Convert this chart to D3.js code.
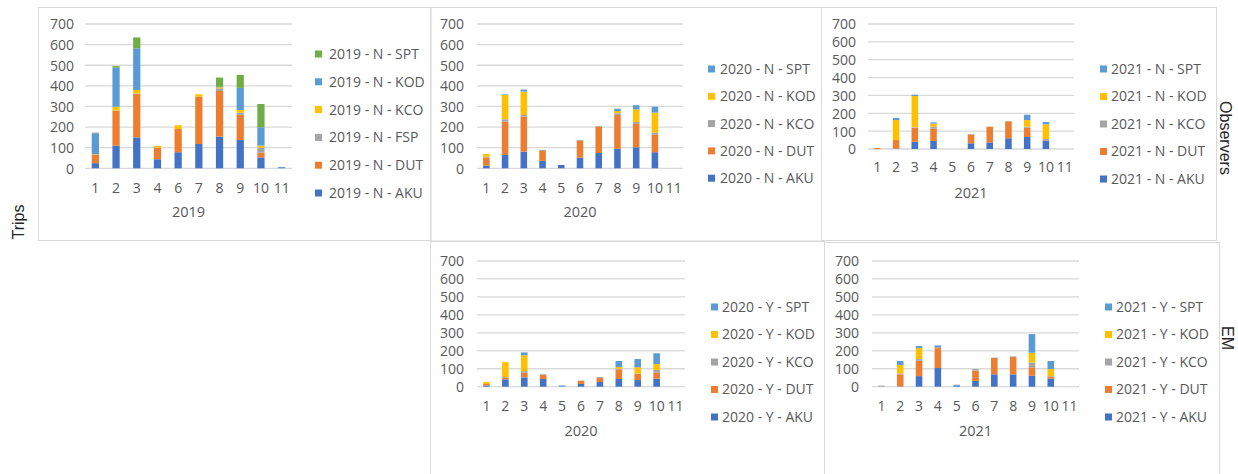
<!DOCTYPE html>
<html>
<head>
<meta charset="utf-8">
<script src="https://cdn.jsdelivr.net/npm/d3@7"></script>
<style>
  html, body { margin: 0; padding: 0; background: #fff; }
  svg { display: block; }
  text { font-family: "Open Sans", "Liberation Sans", sans-serif; }
</style>
</head>
<body>
<svg id="chart" width="1238" height="474"></svg>
<script>
// ---- categories ----
const months2019 = ["1", "2", "3", "4", "6", "7", "8", "9", "10", "11"];
const monthsAll = ["1", "2", "3", "4", "5", "6", "7", "8", "9", "10", "11"];
const ports2019 = ["AKU", "DUT", "FSP", "KCO", "KOD", "SPT"];
const ports = ["AKU", "DUT", "KCO", "KOD", "SPT"];
const yTicks = [0, 100, 200, 300, 400, 500, 600, 700];

// ---- 2019, observers (N) ----
const n2019AKU = [25, 110, 150, 44, 78, 118, 154, 137, 53, 0];
const n2019DUT = [40, 168, 210, 56, 113, 230, 221, 122, 23, 0];
const n2019FSP = [0, 2, 3, 0, 0, 0, 13, 11, 24, 0];
const n2019KCO = [3, 19, 17, 8, 18, 11, 5, 13, 10, 0];
const n2019KOD = [102, 189, 202, 0, 0, 0, 2, 107, 89, 6];
const n2019SPT = [3, 8, 53, 0, 0, 0, 45, 63, 113, 0];

// ---- 2020, observers (N) ----
const n2020AKU = [13, 65, 81, 36, 16, 52, 74, 95, 102, 78, 0];
const n2020DUT = [40, 161, 170, 48, 0, 81, 128, 164, 113, 84, 0];
const n2020KCO = [3, 12, 8, 5, 0, 4, 3, 8, 10, 11, 0];
const n2020KOD = [14, 118, 113, 0, 0, 0, 0, 11, 61, 97, 0];
const n2020SPT = [0, 3, 10, 0, 0, 0, 0, 11, 20, 29, 0];

// ---- 2021, observers (N) ----
const n2021AKU = [0, 2, 41, 45, 0, 32, 37, 60, 67, 47, 0];
const n2021DUT = [5, 48, 78, 69, 0, 48, 88, 95, 52, 2, 0];
const n2021KCO = [0, 0, 3, 11, 0, 4, 0, 2, 6, 7, 0];
const n2021KOD = [0, 112, 175, 17, 0, 0, 0, 0, 37, 82, 0];
const n2021SPT = [0, 12, 7, 7, 0, 0, 0, 0, 30, 13, 0];

// ---- 2020, electronic monitoring (Y) ----
const y2020AKU = [7, 41, 52, 43, 2, 15, 26, 43, 37, 45, 0];
const y2020DUT = [8, 11, 26, 22, 0, 17, 24, 54, 34, 33, 0];
const y2020KCO = [0, 2, 9, 4, 0, 2, 4, 3, 2, 15, 0];
const y2020KOD = [11, 83, 88, 0, 0, 0, 0, 10, 35, 33, 0];
const y2020SPT = [0, 0, 16, 0, 5, 0, 0, 33, 46, 60, 0];

// ---- 2021, electronic monitoring (Y) ----
const y2021AKU = [0, 2, 59, 104, 7, 32, 69, 69, 61, 45, 0];
const y2021DUT = [0, 67, 86, 111, 0, 57, 91, 96, 47, 11, 0];
const y2021KCO = [6, 5, 9, 6, 0, 9, 2, 4, 26, 3, 0];
const y2021KOD = [0, 47, 61, 0, 0, 0, 0, 0, 55, 39, 0];
const y2021SPT = [0, 22, 11, 9, 4, 0, 0, 0, 104, 45, 0];

// Office-style series palette, assigned by series order
const palette = ["#4472C4", "#ED7D31", "#A5A5A5", "#FFC000", "#5B9BD5", "#70AD47"];
const textColor = "#595959";
const lineColor = "#D9D9D9";

const svg = d3.select("#chart");

// panel frames
const frames = [
  [38.5, 7.5, 392.5, 233],
  [430.5, 7.5, 391, 233.5],
  [821.5, 7.5, 395, 233],
  [430.5, 241.5, 394, 240],
  [824.5, 242.5, 395, 240]
];
svg.selectAll("rect.frame").data(frames).join("rect")
  .attr("class", "frame")
  .attr("x", d => d[0]).attr("y", d => d[1])
  .attr("width", d => d[2]).attr("height", d => d[3])
  .attr("fill", "none").attr("stroke", lineColor).attr("stroke-width", 1);

function buildRows(cats, names, arrays) {
  return cats.map((c, i) => {
    const row = { cat: c };
    names.forEach((n, k) => { row[n] = arrays[k][i]; });
    return row;
  });
}

const panels = [
  { year: "2019", code: "N", cats: months2019, names: ports2019,
    arrays: [n2019AKU, n2019DUT, n2019FSP, n2019KCO, n2019KOD, n2019SPT],
    x0: 85, x1: 292, y0: 168.3, y1: 24, labelX: 74, catY: 188, titleY: 212,
    legX: 315, legTextX: 329, legY: 54, legStep: 27.8 },
  { year: "2020", code: "N", cats: monthsAll, names: ports,
    arrays: [n2020AKU, n2020DUT, n2020KCO, n2020KOD, n2020SPT],
    x0: 477, x1: 683, y0: 168.3, y1: 24, labelX: 464, catY: 188, titleY: 212,
    legX: 708, legTextX: 720, legY: 69, legStep: 27.3 },
  { year: "2021", code: "N", cats: monthsAll, names: ports,
    arrays: [n2021AKU, n2021DUT, n2021KCO, n2021KOD, n2021SPT],
    x0: 868, x1: 1074, y0: 149, y1: 24, labelX: 856, catY: 167, titleY: 193,
    legX: 1100, legTextX: 1111, legY: 69, legStep: 27.5 },
  { year: "2020", code: "Y", cats: monthsAll, names: ports,
    arrays: [y2020AKU, y2020DUT, y2020KCO, y2020KOD, y2020SPT],
    x0: 477, x1: 685, y0: 386.7, y1: 261, labelX: 464, catY: 406, titleY: 431,
    legX: 711, legTextX: 722, legY: 307, legStep: 27.5 },
  { year: "2021", code: "Y", cats: monthsAll, names: ports,
    arrays: [y2021AKU, y2021DUT, y2021KCO, y2021KOD, y2021SPT],
    x0: 872, x1: 1079, y0: 386.7, y1: 261, labelX: 859, catY: 406, titleY: 431,
    legX: 1105, legTextX: 1116, legY: 307, legStep: 27.5 }
];

panels.forEach(p => {
  const g = svg.append("g");
  const rows = buildRows(p.cats, p.names, p.arrays);
  const x = d3.scaleBand().domain(p.cats).range([p.x0, p.x1]).padding(0);
  const y = d3.scaleLinear().domain([0, 700]).range([p.y0, p.y1]);
  const barW = x.bandwidth() * 0.35;

  // gridlines
  g.selectAll("line.grid").data(yTicks).join("line")
    .attr("x1", p.x0).attr("x2", p.x1)
    .attr("y1", d => y(d)).attr("y2", d => y(d))
    .attr("stroke", lineColor).attr("stroke-width", 1.3);

  // value axis labels
  const yAxis = g.append("g").attr("transform", `translate(${p.labelX},0)`)
    .call(d3.axisLeft(y).tickValues(yTicks).tickSize(0).tickPadding(0));
  yAxis.select(".domain").remove();
  yAxis.selectAll("text").attr("fill", textColor)
    .style("font-size", "14px").attr("dy", "0.35em");

  // category axis labels
  const xAxis = g.append("g").attr("transform", `translate(0,${p.catY})`)
    .call(d3.axisBottom(x).tickSize(0).tickPadding(0));
  xAxis.select(".domain").remove();
  xAxis.selectAll("text").attr("fill", textColor)
    .style("font-size", "14px").attr("dy", "0.35em");

  // axis title
  g.append("text").attr("x", (p.x0 + p.x1) / 2).attr("y", p.titleY)
    .attr("dy", "0.35em").attr("text-anchor", "middle")
    .attr("fill", textColor).style("font-size", "14.5px").text(p.year);

  // stacked bars
  const stacked = d3.stack().keys(p.names)(rows);
  stacked.forEach((layer, k) => {
    g.append("g").attr("fill", palette[k])
      .selectAll("rect").data(layer).join("rect")
      .attr("x", d => x(d.data.cat) + (x.bandwidth() - barW) / 2)
      .attr("width", barW)
      .attr("y", d => y(d[1]))
      .attr("height", d => Math.max(0, y(d[0]) - y(d[1])));
  });

  // legend (top entry is the last series)
  const legendItems = p.names.map((n, k) => ({ n, k })).reverse();
  const leg = g.selectAll("g.leg").data(legendItems).join("g")
    .attr("transform", (d, i) => `translate(0,${p.legY + i * p.legStep})`);
  leg.append("rect").attr("x", p.legX).attr("y", -3.5)
    .attr("width", 7).attr("height", 7).attr("fill", d => palette[d.k]);
  leg.append("text").attr("x", p.legTextX).attr("dy", "0.35em")
    .attr("fill", textColor).style("font-size", "14px")
    .text(d => `${p.year} - ${p.code} - ${d.n}`);
});

// row / group titles
const sideStyle = sel => sel.attr("text-anchor", "middle").attr("dy", "0.35em")
  .attr("fill", "#262626").style("font-size", "16px")
  .style("font-family", "'Liberation Sans', Arial, sans-serif");
svg.append("text").attr("transform", "translate(18,222) rotate(-90)")
  .call(sideStyle).text("Trips");
svg.append("text").attr("transform", "translate(1226,138) rotate(90)")
  .call(sideStyle).text("Observers");
svg.append("text").attr("transform", "translate(1228,338) rotate(90)")
  .call(sideStyle).text("EM");
</script>
</body>
</html>
